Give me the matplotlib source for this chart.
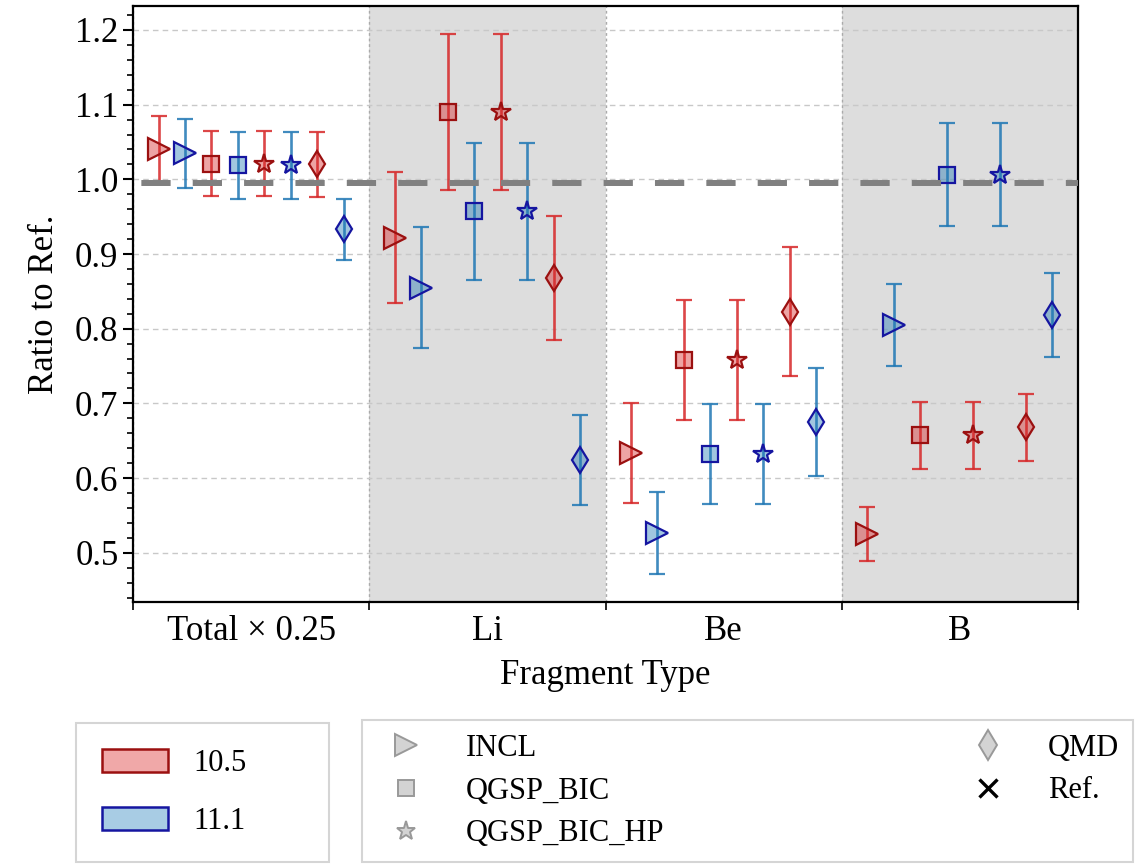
import numpy as np
import matplotlib
matplotlib.use("Agg")
import matplotlib.pyplot as plt
from matplotlib.colors import to_rgba
from matplotlib.patches import Patch
from matplotlib.lines import Line2D
from matplotlib.ticker import MultipleLocator, FormatStrFormatter

plt.rcParams['font.family'] = ['Liberation Serif', 'DejaVu Serif']

# fragment groups
groups = ["Total \u00d7 0.25", "Li", "Be", "B"]

# ratio to reference, per model and version (10.5 / 11.1)
incl_105 = [1.040, 0.922, 0.634, 0.525]
incl_105_err = [0.045, 0.088, 0.067, 0.036]
incl_111 = [1.035, 0.855, 0.526, 0.805]
incl_111_err = [0.046, 0.081, 0.055, 0.055]

bic_105 = [1.021, 1.090, 0.758, 0.657]
bic_105_err = [0.044, 0.104, 0.080, 0.045]
bic_111 = [1.019, 0.957, 0.632, 1.006]
bic_111_err = [0.045, 0.092, 0.067, 0.069]

hp_105 = [1.021, 1.090, 0.758, 0.657]
hp_105_err = [0.044, 0.104, 0.080, 0.045]
hp_111 = [1.019, 0.957, 0.632, 1.006]
hp_111_err = [0.045, 0.092, 0.067, 0.069]

qmd_105 = [1.020, 0.868, 0.823, 0.668]
qmd_105_err = [0.044, 0.083, 0.087, 0.045]
qmd_111 = [0.933, 0.624, 0.675, 0.818]
qmd_111_err = [0.041, 0.060, 0.072, 0.056]

ref_level = 0.995

series = [
    (incl_105, incl_105_err, '>', '10.5', 16),
    (incl_111, incl_111_err, '>', '11.1', 16),
    (bic_105, bic_105_err, 's', '10.5', 12),
    (bic_111, bic_111_err, 's', '11.1', 12),
    (hp_105, hp_105_err, '*', '10.5', 15),
    (hp_111, hp_111_err, '*', '11.1', 15),
    (qmd_105, qmd_105_err, 'd', '10.5', 13.5),
    (qmd_111, qmd_111_err, 'd', '11.1', 13.5),
]

styles = {
    '10.5': dict(ecolor=to_rgba('#d62728', 0.85), mfc=to_rgba('#d62728', 0.42), mec='#9b1010'),
    '11.1': dict(ecolor=to_rgba('#1f77b4', 0.85), mfc=to_rgba('#1f77b4', 0.42), mec='#1515a0'),
}

fig = plt.figure(figsize=(11.37, 8.64), dpi=100)
ax = fig.add_axes([0.117, 0.3032, 0.8311, 0.6898])

# shaded groups
for g in [1, 3]:
    ax.axvspan(g, g + 1, color='#dddddd', zorder=0, lw=0)

xc = np.arange(len(groups)) + 0.5
offsets = (np.arange(8) - 3.5) * 0.112
for k, (vals, errs, mk, ver, ms) in enumerate(series):
    st = styles[ver]
    ax.errorbar(xc + offsets[k], vals, yerr=errs, fmt=mk, ms=ms,
                mfc=st['mfc'], mec=st['mec'], mew=1.6,
                ecolor=st['ecolor'], elinewidth=1.9, capsize=5.5, capthick=1.9,
                zorder=2)

ax.axhline(ref_level, color='#808080', lw=4.3, ls=(7.2, (4.9, 3.7)), zorder=3)

ax.set_xlim(0, 4)
ax.set_ylim(0.434, 1.232)

ax.set_xticks([0, 1, 2, 3, 4])
ax.set_xticklabels([])
ax.set_xticks(xc, minor=True)
ax.set_xticklabels(groups, minor=True)
ax.tick_params(axis='x', which='major', direction='out', length=6, width=1.2)
ax.tick_params(axis='x', which='minor', length=0, labelsize=25, pad=9)

ax.yaxis.set_major_locator(MultipleLocator(0.1))
ax.yaxis.set_minor_locator(MultipleLocator(0.02))
ax.yaxis.set_major_formatter(FormatStrFormatter('%.1f'))
ax.tick_params(axis='y', which='major', direction='out', length=7, width=1.5, labelsize=25)
ax.tick_params(axis='y', which='minor', direction='out', length=4, width=1.2)

ax.yaxis.grid(True, which='major', ls=(0, (4, 3)), color='#c8c8c8', lw=1)
ax.xaxis.grid(True, which='major', ls=(0, (2, 2)), color='#aaaaaa', lw=1)
ax.set_axisbelow(True)

for sp in ax.spines.values():
    sp.set_linewidth(1.6)

ax.set_xlabel("Fragment Type", fontsize=25, labelpad=8)
ax.set_ylabel("Ratio to Ref.", fontsize=25, labelpad=10)

# legends
ver_handles = [
    Patch(facecolor='#f0a8a8', edgecolor='#9b1010', lw=1.8, label='10.5'),
    Patch(facecolor='#a8cce4', edgecolor='#1515a0', lw=1.8, label='11.1'),
]
top1 = 1 - 723 / 864
leg1 = fig.legend(handles=ver_handles, loc='upper left',
                  bbox_to_anchor=(76 / 1137, top1 - 0.1, 253 / 1137, 0.1),
                  mode='expand', borderaxespad=0, fontsize=22, frameon=True,
                  fancybox=False, framealpha=1, edgecolor='#d5d5d5',
                  handlelength=2.15, handleheight=0.75, handletextpad=0.85,
                  labelspacing=0.95, borderpad=0.85)
leg1.get_frame().set_linewidth(1.5)

gray = dict(ls='none', mfc='#d3d3d3', mec='#999999', mew=1.4)
model_handles = [
    Line2D([], [], marker='>', ms=16, label='INCL', **gray),
    Line2D([], [], marker='s', ms=12, label='QGSP_BIC', **gray),
    Line2D([], [], marker='*', ms=14, label='QGSP_BIC_HP', **gray),
    Line2D([], [], marker='d', ms=15, label='QMD', **gray),
    Line2D([], [], marker='x', ms=13, ls='none', color='black', mew=2.4, label='Ref.'),
]
top2 = 1 - 720 / 864
leg2 = fig.legend(handles=model_handles, loc='upper left', ncol=2,
                  bbox_to_anchor=(362 / 1137, top2 - 0.1, 771 / 1137, 0.1),
                  mode='expand', borderaxespad=0, fontsize=22, frameon=True,
                  fancybox=False, framealpha=1, edgecolor='#d5d5d5',
                  handlelength=2.0, handletextpad=0.95,
                  labelspacing=0.45, borderpad=0.45)
leg2.get_frame().set_linewidth(1.5)

fig.savefig("out.png", dpi=100)
